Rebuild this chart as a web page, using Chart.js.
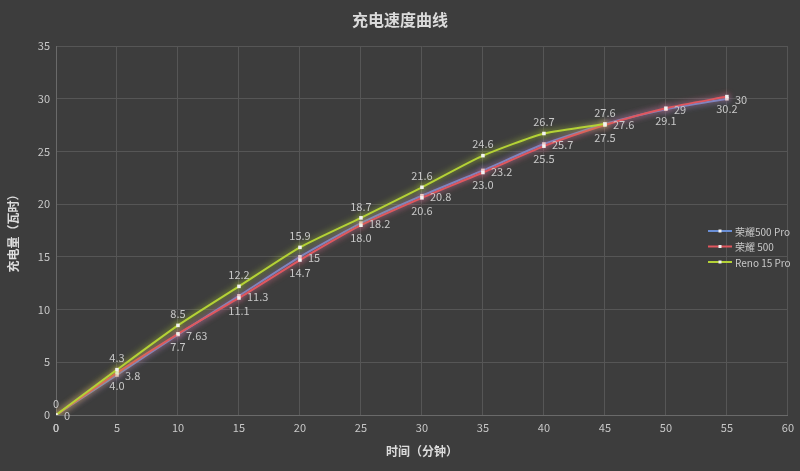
<!DOCTYPE html>
<html>
<head>
<meta charset="utf-8">
<script src="https://cdn.jsdelivr.net/npm/chart.js@4.4.0/dist/chart.umd.min.js"></script>
<style>
  html, body { margin: 0; padding: 0; background: #3d3d3d; }
  #wrap { width: 800px; height: 471px; }
</style>
</head>
<body>
<div id="wrap"><canvas id="chartCharge"></canvas></div>
<script>
// charge curve data (minutes -> charged amount)
const times = [0, 5, 10, 15, 20, 25, 30, 35, 40, 45, 50, 55];
const honor500Pro = [0, 3.8, 7.63, 11.3, 15, 18.2, 20.8, 23.2, 25.7, 27.6, 29, 30];
const honor500 = [0, 4.0, 7.7, 11.1, 14.7, 18.0, 20.6, 23.0, 25.5, 27.5, 29.1, 30.2];
const reno15Pro = [0, 4.3, 8.5, 12.2, 15.9, 18.7, 21.6, 24.6, 26.7, 27.6];
const seriesNames = ['荣耀500 Pro', '荣耀 500', 'Reno 15 Pro'];
const xTicks = [0, 5, 10, 15, 20, 25, 30, 35, 40, 45, 50, 55, 60];
const yTicks = [0, 5, 10, 15, 20, 25, 30, 35];

const COLORS = {
    bg: '#3d3d3d',
    grid: '#565656',
    text: '#c8c8c8',
    blue: '#6a8fd6',
    red: '#e0575f',
    green: '#b4d236'
};
const FONT = '"Noto Sans CJK SC", "Noto Sans", sans-serif';

function toPoints(values) {
    return values.map((v, i) => ({ x: times[i], y: v }));
}

// label placement and formatting per dataset
const labelPos = ['right', 'below', 'above'];
const labelFmt = [
    v => String(v),
    v => (v === 0 ? '0' : v.toFixed(1)),
    v => String(v)
];

const bgPlugin = {
    id: 'bg',
    beforeDraw(chart) {
        const ctx = chart.ctx;
        ctx.save();
        ctx.fillStyle = COLORS.bg;
        ctx.fillRect(0, 0, chart.width, chart.height);
        ctx.restore();
    }
};

const glowPlugin = {
    id: 'glow',
    beforeDatasetDraw(chart, args) {
        const ctx = chart.ctx;
        ctx.save();
        ctx.shadowColor = chart.data.datasets[args.index].borderColor;
        ctx.shadowBlur = 6;
    },
    afterDatasetDraw(chart) {
        chart.ctx.restore();
    }
};

const labelPlugin = {
    id: 'pointLabels',
    afterDatasetsDraw(chart) {
        const ctx = chart.ctx;
        ctx.save();
        ctx.font = '11px ' + FONT;
        ctx.fillStyle = COLORS.text;
        chart.data.datasets.forEach((ds, di) => {
            const meta = chart.getDatasetMeta(di);
            meta.data.forEach((pt, i) => {
                const txt = labelFmt[di](ds.data[i].y);
                const pos = labelPos[di];
                if (pos === 'right') {
                    ctx.textAlign = 'left';
                    ctx.textBaseline = 'middle';
                    ctx.fillText(txt, pt.x + 8, pt.y + 1);
                } else if (pos === 'below') {
                    ctx.textAlign = 'center';
                    ctx.textBaseline = 'top';
                    ctx.fillText(txt, pt.x, pt.y + 7);
                } else {
                    ctx.textAlign = 'center';
                    ctx.textBaseline = 'bottom';
                    ctx.fillText(txt, pt.x, pt.y - 6);
                }
            });
        });
        ctx.restore();
    }
};

const legendPlugin = {
    id: 'sideLegend',
    afterDraw(chart) {
        const ctx = chart.ctx;
        const x0 = 708, x1 = 732, y0 = 231, step = 15.5;
        ctx.save();
        ctx.font = '10px ' + FONT;
        ctx.textAlign = 'left';
        ctx.textBaseline = 'middle';
        [0, 1, 2].forEach(i => {
            const ds = chart.data.datasets[i];
            const y = y0 + i * step;
            ctx.strokeStyle = ds.borderColor;
            ctx.lineWidth = 2;
            ctx.beginPath();
            ctx.moveTo(x0, y);
            ctx.lineTo(x1, y);
            ctx.stroke();
            ctx.fillStyle = '#f0f0f0';
            ctx.fillRect((x0 + x1) / 2 - 1.5, y - 1.5, 3, 3);
            ctx.fillStyle = COLORS.text;
            ctx.fillText(ds.label, x1 + 3, y + 1);
        });
        ctx.restore();
    }
};

const titlePlugin = {
    id: 'topTitle',
    afterDraw(chart) {
        const ctx = chart.ctx;
        ctx.save();
        ctx.font = 'bold 16px ' + FONT;
        ctx.fillStyle = '#dcdcdc';
        ctx.textAlign = 'center';
        ctx.textBaseline = 'middle';
        ctx.fillText('充电速度曲线', 400, 20);
        ctx.restore();
    }
};

function makeDataset(label, values, color, order) {
    return {
        label: label,
        data: toPoints(values),
        borderColor: color,
        backgroundColor: color,
        borderWidth: 2,
        pointRadius: 2.5,
        pointStyle: 'rect',
        pointBackgroundColor: '#f2f2f2',
        pointBorderColor: '#f2f2f2',
        pointBorderWidth: 0,
        tension: 0.2,
        order: order
    };
}

const ctxCharge = document.getElementById('chartCharge').getContext('2d');
new Chart(ctxCharge, {
    type: 'line',
    data: {
        datasets: [
            makeDataset(seriesNames[0], honor500Pro, COLORS.blue, 2),
            makeDataset(seriesNames[1], honor500, COLORS.red, 1),
            makeDataset(seriesNames[2], reno15Pro, COLORS.green, 0)
        ]
    },
    options: {
        responsive: true,
        maintainAspectRatio: false,
        animation: false,
        layout: { padding: { top: 46, right: 10, left: 0, bottom: 0 } },
        scales: {
            x: {
                type: 'linear',
                min: 0,
                max: 60,
                afterBuildTicks: s => { s.ticks = xTicks.map(v => ({ value: v })); },
                afterFit: s => { s.height = 56; },
                grid: { color: COLORS.grid, drawTicks: false },
                border: { color: '#6a6a6a' },
                ticks: { color: COLORS.text, font: { family: FONT, size: 11 }, padding: 6 },
                title: {
                    display: true,
                    text: '时间（分钟）',
                    color: '#dcdcdc',
                    font: { family: FONT, size: 12, weight: 'bold' },
                    padding: { top: 0, bottom: 12 }
                }
            },
            y: {
                min: 0,
                max: 35,
                afterBuildTicks: s => { s.ticks = yTicks.map(v => ({ value: v })); },
                afterFit: s => { s.width = 56; },
                grid: { color: COLORS.grid, drawTicks: false },
                border: { color: '#6a6a6a' },
                ticks: { color: COLORS.text, font: { family: FONT, size: 11 }, padding: 6 },
                title: {
                    display: true,
                    text: '充电量（瓦时）',
                    color: '#dcdcdc',
                    font: { family: FONT, size: 12, weight: 'bold' },
                    padding: { top: 6, bottom: 0 }
                }
            }
        },
        plugins: {
            legend: { display: false },
            tooltip: { enabled: false }
        }
    },
    plugins: [bgPlugin, glowPlugin, labelPlugin, legendPlugin, titlePlugin]
});
</script>
</body>
</html>
